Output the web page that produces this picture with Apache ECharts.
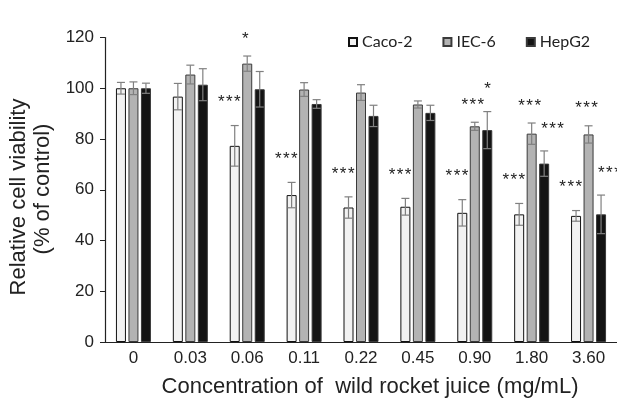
<!DOCTYPE html>
<html>
<head>
<meta charset="utf-8">
<script src="https://cdn.jsdelivr.net/npm/echarts@6/dist/echarts.min.js"></script>
<style>html,body{margin:0;padding:0;background:#fff}#c{width:617px;height:400px}</style>
</head>
<body>
<div id="c"></div>
<script>
var categories = ['0', '0.03', '0.06', '0.11', '0.22', '0.45', '0.90', '1.80', '3.60'];
var seriesNames = ['Caco-2', 'IEC-6', 'HepG2'];
var cacoValues = [100, 96.7, 77.3, 57.9, 53.0, 53.3, 50.9, 50.3, 49.7];
var cacoErrors = [2.3, 5.2, 8.0, 5.0, 4.2, 3.3, 5.2, 4.3, 2.1];
var iecValues = [100, 105.4, 109.7, 99.5, 98.3, 93.6, 85.0, 82.1, 81.8];
var iecErrors = [2.5, 3.7, 3.0, 2.7, 3.1, 1.4, 1.6, 4.2, 3.4];
var hepValues = [100, 101.4, 99.6, 93.8, 89.1, 90.3, 83.5, 70.3, 50.3];
var hepErrors = [2.0, 6.3, 7.0, 1.7, 4.2, 3.0, 7.3, 5.0, 7.6];
var cacoSig = ['', '', '***', '***', '***', '***', '***', '***', '***'];
var iecSig = ['', '', '*', '', '', '', '***', '***', '***'];
var hepSig = ['', '', '', '', '', '', '*', '***', '***'];
var yTicks = [0, 20, 40, 60, 80, 100, 120];

var values = [cacoValues, iecValues, hepValues];
var errors = [cacoErrors, iecErrors, hepErrors];
var sigs = [cacoSig, iecSig, hepSig];

var fills = ['#f2f2f2', '#b3b3b3', '#141414'];
var borders = ['#111111', '#3a3a3a', '#3a3a3a'];
var barW = 10, gapPx = 2.5;
var sigAlign = ['right', 'center', 'left'];
var sigXOff = [6, -2, -3];
var sigYOff = [27, 21, 26];

var chart = echarts.init(document.getElementById('c'), null, {renderer: 'canvas'});

var series = [];
for (var s = 0; s < 3; s++) {
  series.push({
    name: seriesNames[s],
    type: 'bar',
    data: values[s],
    barWidth: barW,
    barGap: '25%',
    itemStyle: {color: fills[s], borderColor: borders[s], borderWidth: 1},
    emphasis: {disabled: true},
    z: 2
  });
}
for (var s2 = 0; s2 < 3; s2++) {
  (function (s) {
    var data = values[s].map(function (v, i) { return [i, v, errors[s][i]]; });
    series.push({
      type: 'custom',
      name: seriesNames[s] + ' err',
      data: data,
      encode: {x: 0, y: 1},
      z: 5,
      silent: true,
      renderItem: function (params, api) {
        var i = api.value(0), v = api.value(1), e = api.value(2);
        var top = api.coord([i, v + e]);
        var bot = api.coord([i, v - e]);
        var off = (s - 1) * (barW + gapPx);
        var x = top[0] + off;
        var cap = 4;
        var st = {stroke: '#808080', lineWidth: 1.2};
        var children = [
          {type: 'line', shape: {x1: x, y1: top[1], x2: x, y2: bot[1]}, style: st},
          {type: 'line', shape: {x1: x - cap, y1: top[1], x2: x + cap, y2: top[1]}, style: st},
          {type: 'line', shape: {x1: x - cap, y1: bot[1], x2: x + cap, y2: bot[1]}, style: st}
        ];
        var txt = sigs[s][params.dataIndex];
        if (txt) {
          children.push({
            type: 'text',
            x: x + sigXOff[s],
            y: top[1] - sigYOff[s] + 4,
            style: {
              text: txt.split('').join('\u200A'),
              fontFamily: 'Liberation Sans',
              fontSize: 17,
              fill: '#222',
              align: sigAlign[s],
              verticalAlign: 'middle'
            }
          });
        }
        return {type: 'group', children: children};
      }
    });
  })(s2);
}

chart.setOption({
  animation: false,
  backgroundColor: '#fff',
  grid: {left: 105, top: 37.5, bottom: 58, width: 513, containLabel: false},
  legend: {
    data: seriesNames,
    left: 343,
    top: 29,
    icon: 'rect',
    itemWidth: 8,
    itemHeight: 8,
    itemGap: 30,
    textStyle: {fontFamily: 'Lato', fontSize: 16, color: '#222'},
    selectedMode: false
  },
  xAxis: {
    type: 'category',
    data: categories,
    axisLine: {lineStyle: {color: '#222', width: 1.2}},
    axisTick: {show: false},
    axisLabel: {fontFamily: 'Liberation Sans', fontSize: 17, color: '#222', margin: 8}
  },
  yAxis: {
    type: 'value',
    min: yTicks[0],
    max: yTicks[yTicks.length - 1],
    interval: 20,
    splitLine: {show: false},
    axisLine: {show: true, lineStyle: {color: '#222', width: 1.2}},
    axisTick: {show: true, length: 5, lineStyle: {color: '#222'}},
    axisLabel: {fontFamily: 'Liberation Sans', fontSize: 17, color: '#222', margin: 11}
  },
  graphic: [
    {type: 'text', x: 19, y: 197, rotation: Math.PI / 2,
      style: {text: 'Relative cell viability', fontFamily: 'Liberation Sans', fontSize: 22, fill: '#222', align: 'center', verticalAlign: 'middle'}},
    {type: 'text', x: 43, y: 189, rotation: Math.PI / 2,
      style: {text: '(% of control)', fontFamily: 'Liberation Sans', fontSize: 22, fill: '#222', align: 'center', verticalAlign: 'middle'}},
    {type: 'text', x: 370, y: 387,
      style: {text: 'Concentration of  wild rocket juice (mg/mL)', fontFamily: 'Liberation Sans', fontSize: 22, fill: '#222', align: 'center', verticalAlign: 'middle'}}
  ],
  series: series
});
</script>
</body>
</html>
